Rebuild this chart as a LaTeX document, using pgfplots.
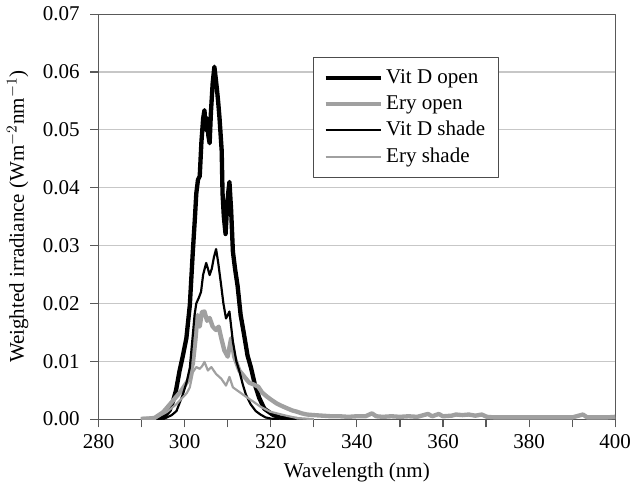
\documentclass[border=0pt]{standalone}
\usepackage{fontspec}
\setmainfont{Liberation Serif}
\usepackage{pgfplots}
\pgfplotsset{compat=1.18}
\definecolor{erygray}{RGB}{160,160,160}
\begin{document}
\fontsize{12.6}{15}\selectfont
\begin{tikzpicture}
\begin{axis}[
  scale only axis, width=310pt, height=243pt,
  xmin=280, xmax=400, ymin=0, ymax=0.07,
  xtick={280,300,...,400}, minor xtick={290,310,...,390},
  ytick={0,0.01,0.02,0.03,0.04,0.05,0.06,0.07},
  scaled y ticks=false,
  yticklabel style={/pgf/number format/fixed, /pgf/number format/fixed zerofill,
    /pgf/number format/precision=2, xshift=-2pt},
  /pgf/number format/assume math mode=true,
  tick label style={font=\fontsize{12.6}{15}\selectfont},
  xticklabel style={inner xsep=0pt},
  label style={font=\fontsize{12.6}{15}\selectfont},
  ylabel shift=0pt,
  tick align=outside, tick pos=left,
  major tick length=5pt, minor tick length=5pt,
  ymajorgrids, grid style={black!22, line width=0.7pt},
  axis line style={black!65, line width=0.7pt},
  every tick/.style={black!65, line width=0.7pt},
  xlabel={Wavelength (nm)},
  ylabel={Weighted irradiance (Wm$^{-2}$nm$^{-1}$)},
  legend style={at={(0.415,0.894)}, anchor=north west, draw=black!70, fill=white,
    line width=0.7pt, font=\fontsize{12.6}{15}\selectfont, inner xsep=6pt, inner ysep=5pt,
    row sep=1.4pt},
  legend cell align=left,
  legend image code/.code={\draw[#1] (0pt,0pt) -- (33pt,0pt);},
  line join=round,
]
% Vit D open
\addplot[black, line width=2.6pt] coordinates {
(290,0) (293,0) (295,0.0003) (296.5,0.0015) (297.3,0.0031) (298,0.005) (298.8,0.0083)
(299.6,0.011) (300.4,0.014) (301.2,0.0197) (301.9,0.029) (302.4,0.035) (302.7,0.039)
(303.1,0.0414) (303.5,0.042) (303.9,0.048) (304.3,0.052) (304.6,0.0534) (304.9,0.050)
(305.2,0.052) (305.5,0.049) (305.8,0.0477) (306.1,0.053) (306.5,0.058) (306.9,0.0609)
(307.2,0.059) (307.5,0.057) (307.8,0.0547) (308.1,0.052) (308.6,0.0464) (308.8,0.039)
(309.1,0.035) (309.5,0.032) (309.8,0.036) (310.1,0.039) (310.4,0.041) (310.8,0.036)
(311.2,0.029) (311.7,0.026) (312.3,0.023) (313,0.018) (313.8,0.0146) (314.6,0.011)
(315.4,0.0089) (316.3,0.006) (317.3,0.0037) (318.5,0.0018) (320.4,0.0008) (322,0.0003)
(324,0.0001) (326,0)
};
% Ery open
\addplot[erygray, line width=2.6pt] coordinates {
(289.8,0) (293,0.0002) (295,0.0012) (297.3,0.0032) (299.2,0.0049) (300.8,0.0067)
(301.9,0.0096) (302.5,0.0137) (303,0.018) (303.5,0.016) (304,0.0185) (304.6,0.0186)
(305.2,0.017) (305.8,0.0175) (306.5,0.016) (307.3,0.0154) (307.9,0.0160) (308.5,0.0140)
(309.2,0.0119) (310,0.0108) (310.8,0.0140) (311.5,0.0108) (312.7,0.0084) (314,0.0072)
(315,0.0063) (316,0.0060) (317.1,0.0056) (318,0.0046) (319.1,0.0039) (320.2,0.0033)
(321.4,0.0027) (322.5,0.0023) (323.7,0.0019) (325,0.0015) (326,0.0013) (327.2,0.0010)
(328.4,0.0008) (330,0.0007) (332,0.0006) (334,0.0005) (336,0.0005) (338,0.0004)
(340,0.0005) (342,0.0005) (343.5,0.0010) (344.5,0.0005) (346,0.0004) (348,0.0005)
(350,0.0004) (352,0.0005) (354,0.0004) (356.5,0.0009) (357.5,0.0005) (359,0.0009)
(360,0.0005) (362,0.0006) (363,0.0008) (364.5,0.0007) (366,0.0008) (367.5,0.0006)
(369,0.0008) (370.2,0.0004) (372,0.0003) (375,0.0003) (378,0.0003) (381,0.0003)
(384,0.0003) (387,0.0003) (390,0.0003) (392.5,0.0008) (393.5,0.0003) (396,0.0003)
(398,0.0003) (400,0.0004)
};
% Vit D shade
\addplot[black, line width=1.3pt] coordinates {
(295,0) (297,0.0007) (298.1,0.0014) (299.6,0.0043) (300.5,0.0065) (301.2,0.0089)
(301.9,0.0146) (302.3,0.018) (302.7,0.020) (303.3,0.021) (303.8,0.022) (304.3,0.025)
(305,0.027) (305.4,0.026) (305.8,0.0249) (306.3,0.026) (306.8,0.028) (307.3,0.0294)
(307.8,0.027) (308.5,0.023) (309,0.020) (309.6,0.0174) (310,0.0180) (310.4,0.0186)
(310.8,0.016) (311.2,0.0134) (312,0.010) (312.7,0.0083) (313.5,0.006) (314.2,0.0043)
(315.3,0.0026) (316.5,0.0014) (317.6,0.0008) (318.8,0.0003) (320,0.0001) (322,0)
};
% Ery shade
\addplot[erygray, line width=1.3pt] coordinates {
(290,0) (293.5,0.0003) (295.8,0.0012) (298.1,0.0026) (299.6,0.0038) (300.5,0.0045)
(301.2,0.0055) (301.9,0.0081) (302.7,0.0090) (303.5,0.0087) (304.1,0.0092) (304.6,0.0099)
(305.4,0.0084) (306.2,0.0090) (307.3,0.0078) (308.5,0.0070) (309.6,0.0058) (310.4,0.0073)
(311.2,0.0055) (312.7,0.0047) (314,0.0040) (315,0.0035) (316,0.0030) (317.5,0.0022)
(319.8,0.0013) (323,0.0007) (326,0.0002) (330,0)
};
\legend{Vit D open, Ery open, Vit D shade, Ery shade}
\end{axis}
\end{tikzpicture}
\end{document}
